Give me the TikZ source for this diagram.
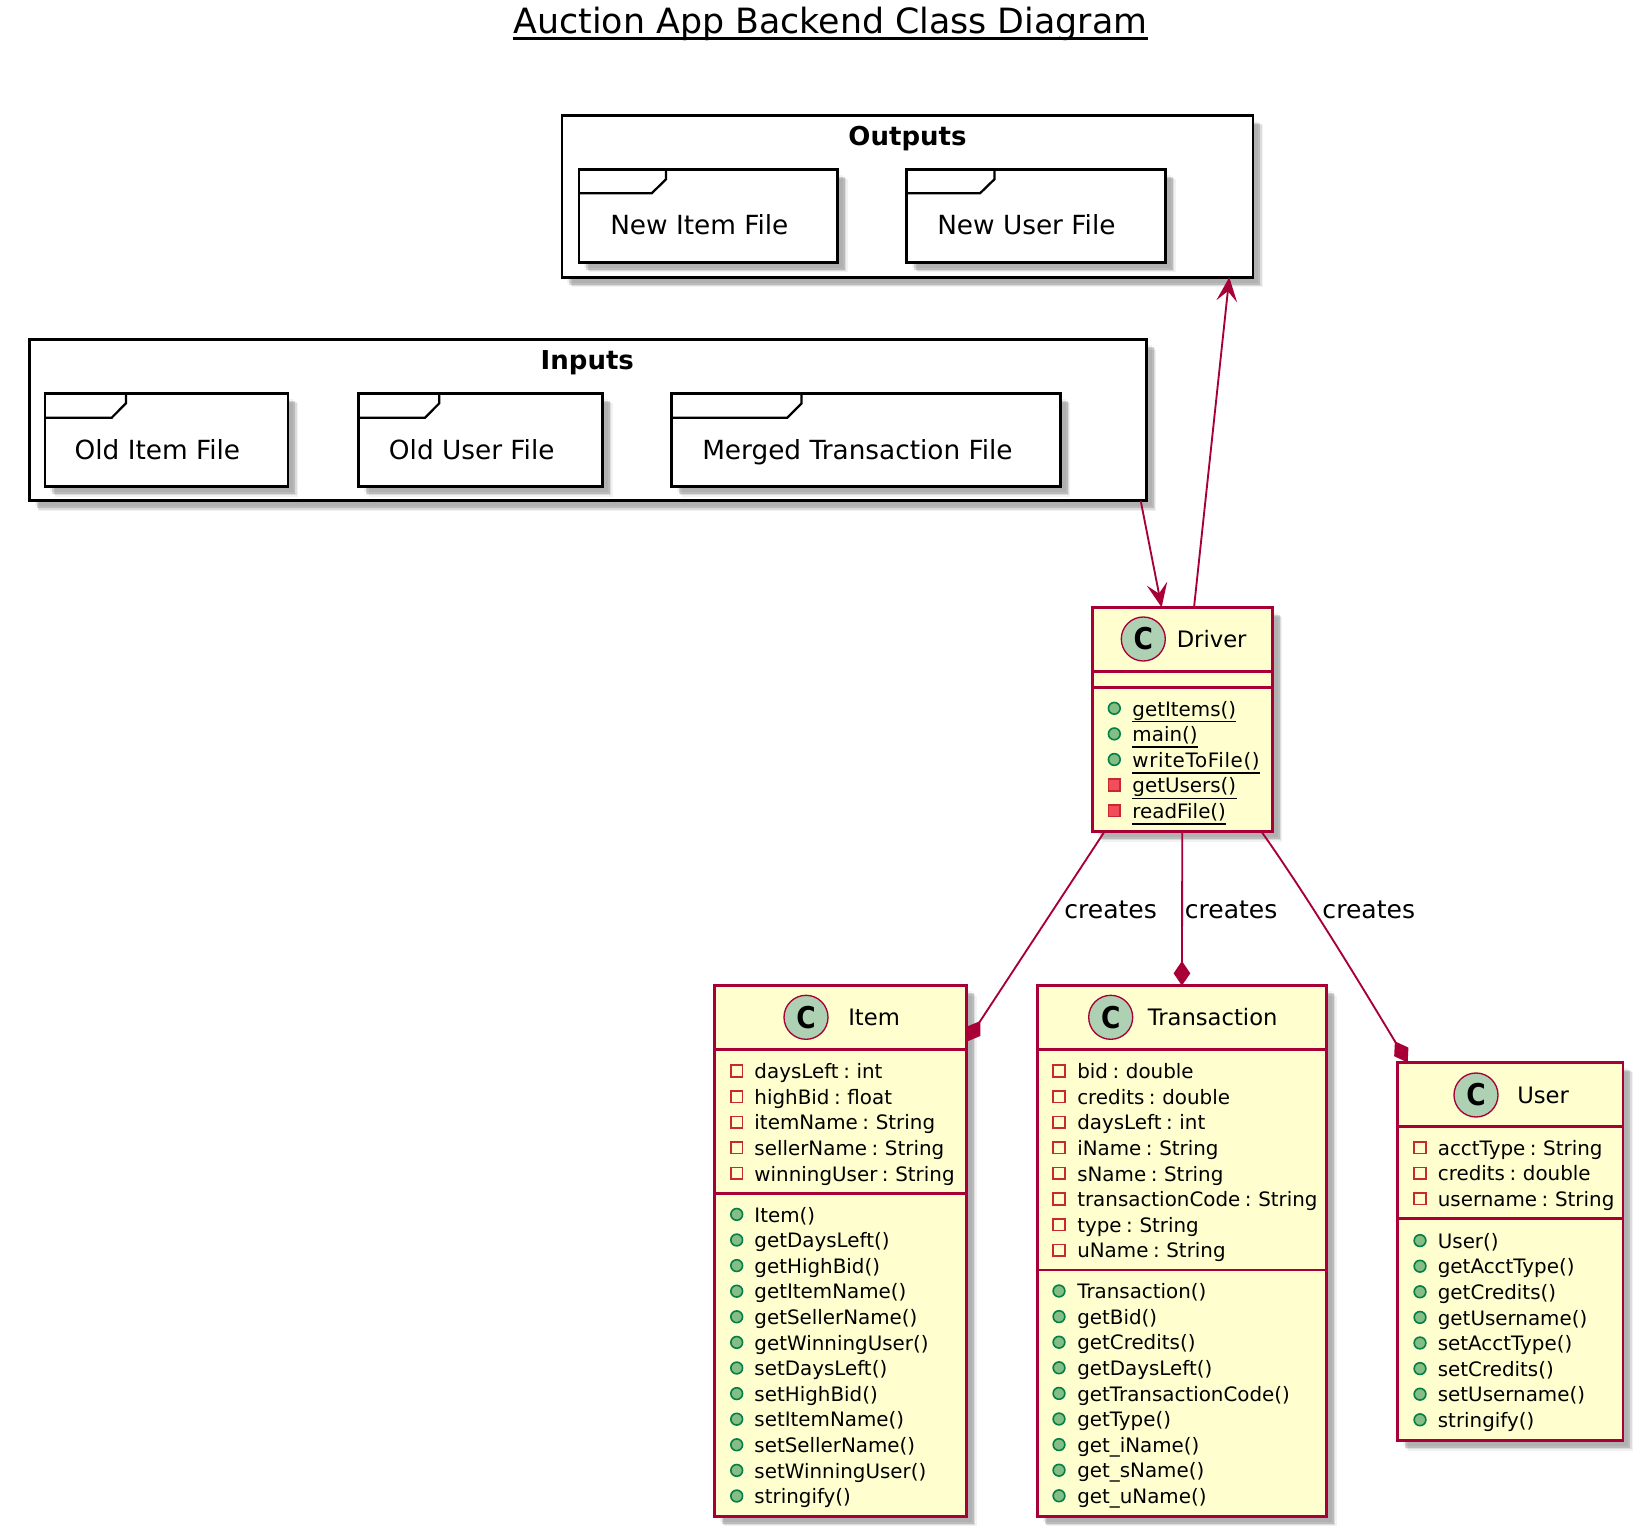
\documentclass[tikz,border=0pt]{standalone}
\usepackage{fontspec}
\setmainfont{DejaVu Sans}
\newfontfamily\memberfont{DejaVu Sans}[WordSpace=0.72]
\usetikzlibrary{arrows.meta,shadows}
\definecolor{umlred}{HTML}{A80036}
\definecolor{umlfill}{HTML}{FEFECE}
\definecolor{spotfill}{HTML}{ADD1B2}
\definecolor{pubfill}{HTML}{84BE84}
\definecolor{publine}{HTML}{038048}
\definecolor{privfill}{HTML}{F24D5C}
\definecolor{privline}{HTML}{C82930}
\newcommand{\spotletter}{\scalebox{.88}[1]{C}}
\tikzset{
  umlshadow/.style={
    general shadow={fill=black,opacity=.05,shadow xshift=4pt,shadow yshift=-4pt},
    general shadow={fill=black,opacity=.15,shadow xshift=5.5pt,shadow yshift=-5.5pt},
    general shadow={fill=black,opacity=.09,shadow xshift=6.5pt,shadow yshift=-6.5pt},
    general shadow={fill=black,opacity=.05,shadow xshift=7.5pt,shadow yshift=-7.5pt}},
  classbox/.style={umlshadow,draw=umlred,fill=umlfill,line width=2.1pt,inner sep=0pt,outer sep=0pt},
  framebox/.style={umlshadow,draw=black,fill=white,line width=2.1pt,inner sep=0pt,outer sep=0pt},
  tabline/.style={draw=black,line width=1.7pt,line join=miter},
  classline/.style={draw=umlred,line width=2.1pt},
  underrule/.style={draw=black,line width=1.1pt},
  titlerule/.style={draw=black,line width=2pt},
  titlelabel/.style={anchor=base,inner sep=0pt,font=\fontsize{26.1}{30}\selectfont},
  framelabel/.style={anchor=base,inner sep=0pt,font=\fontsize{19.5}{23}\selectfont\bfseries},
  filelabel/.style={anchor=base west,inner sep=0pt,font=\fontsize{19.75}{23}\selectfont},
  headlabel/.style={anchor=base west,inner sep=0pt,font=\fontsize{17}{20}\selectfont},
  memberlabel/.style={anchor=base west,inner sep=0pt,font=\memberfont\fontsize{14.9}{18}\selectfont},
  edgelabel/.style={anchor=base west,inner sep=0pt,font=\fontsize{18.8}{22}\selectfont},
  spot/.style={circle,draw=umlred,fill=spotfill,line width=1pt,minimum size=33pt,inner sep=0pt,
    font=\fontsize{22.5}{28}\selectfont\bfseries},
  pubdot/.style={circle,draw=publine,fill=pubfill,line width=1.2pt,minimum size=8.8pt,inner sep=0pt},
  privsquare/.style={rectangle,draw=privline,fill=privfill,line width=1.2pt,minimum size=8.8pt,inner sep=0pt},
  privfield/.style={rectangle,draw=privline,line width=1.2pt,minimum size=8.8pt,inner sep=0pt},
  openarrow/.style={draw=umlred,line width=1.4pt,-{Stealth[length=18pt,width=15.5pt,inset=7.5pt]}},
  comparrow/.style={draw=umlred,line width=1.4pt,-{Diamond[length=18.5pt,width=12.5pt]}}
}
\begin{document}
\begin{tikzpicture}[x=0.75pt,y=0.75pt,yscale=-1,xscale=1]
\useasboundingbox (0,0) rectangle (1643,1537);

% Title
\node[titlelabel] (title) at (830.4,33.3) {Auction App Backend Class Diagram};
\draw[titlerule] ([yshift=3.75pt]title.base west) -- ([yshift=3.75pt]title.base east);

% Outputs
\node[framebox,minimum width=518.3pt,minimum height=121.5pt] (outputs) at (907.5,196.3) {};
\node[framelabel] (outputslabel) at (907.5,146) {Outputs};
\node[framebox,minimum width=194pt,minimum height=69.8pt] (newitem) at (708.35,215.8) {};
\draw[tabline] (579,193.3) -- (651.7,193.3) -- (666,179.3) -- (666,169.3);
\node[filelabel] (newitemlabel) at (610,235) {New Item File};
\node[framebox,minimum width=194pt,minimum height=69.8pt] (newuser) at (1036.2,215.8) {};
\draw[tabline] (907.4,193.3) -- (980,193.3) -- (994.4,179.3) -- (994.4,169.3);
\node[filelabel] (newuserlabel) at (937,235) {New User File};

% Inputs
\node[framebox,minimum width=837.8pt,minimum height=121pt] (inputs) at (587.8,420.2) {};
\node[framelabel] (inputslabel) at (587.3,370) {Inputs};
\node[framebox,minimum width=182.3pt,minimum height=69.8pt] (olditem) at (166.5,440) {};
\draw[tabline] (45,417.7) -- (111.7,417.7) -- (126,403.3) -- (126,394);
\node[filelabel] (olditemlabel) at (74.4,459.7) {Old Item File};
\node[framebox,minimum width=183pt,minimum height=69.8pt] (olduser) at (480.5,440) {};
\draw[tabline] (358.4,417.7) -- (425,417.7) -- (439.3,403.3) -- (439.3,394);
\node[filelabel] (olduserlabel) at (388.7,459.7) {Old User File};
\node[framebox,minimum width=291.6pt,minimum height=69.8pt] (merged) at (866,440) {};
\draw[tabline] (671.6,417.7) -- (787.3,417.7) -- (801.6,403.3) -- (801.6,394);
\node[filelabel] (mergedlabel) at (702,459.7) {Merged Transaction File};

% Driver
\node[classbox,minimum width=135pt,minimum height=168.3pt] (driver) at (1182.3,719.5) {};
\node[spot] (driverspot) at (1143.3,639) {\spotletter};
\node[headlabel] (driverlabel) at (1176.5,647.5) {Driver};
\draw[classline] (1092.3,671.7) -- (1272.3,671.7);
\draw[classline] (1092.3,687.3) -- (1272.3,687.3);
\foreach \mname [count=\n from 0] in {getItems(),main(),{\addfontfeatures{LetterSpace=3.2}writeToFile()}} {
  \node[pubdot] (driverpub\n) at (1114.3,{708.3+25.6*\n}) {};
  \node[memberlabel] (driverpubname\n) at (1132.2,{716+25.6*\n}) {\mname};
  \draw[underrule] ([yshift=4.2pt]driverpubname\n.base west) -- ([yshift=4.2pt]driverpubname\n.base east);
}
\foreach \mname [count=\n from 3] in {getUsers(),readFile()} {
  \node[privsquare] (driverpriv\n) at (1114.3,{708.3+25.6*\n}) {};
  \node[memberlabel] (driverprivname\n) at (1132.2,{716+25.6*\n}) {\mname};
  \draw[underrule] ([yshift=4.2pt]driverprivname\n.base west) -- ([yshift=4.2pt]driverprivname\n.base east);
}

% Item
\node[classbox,minimum width=189.3pt,minimum height=398pt] (item) at (840.5,1251) {};
\node[spot] (itemspot) at (806,1017.3) {\spotletter};
\node[headlabel] (itemlabel) at (848,1025.7) {Item};
\draw[classline] (714.3,1049.3) -- (966.7,1049.3);
\draw[classline] (714.3,1193.3) -- (966.7,1193.3);
\foreach \mname [count=\n from 0] in {daysLeft : int,highBid : float,itemName : String,sellerName : String,winningUser : String} {
  \node[privfield] (itemfield\n) at (736.7,{1071+25.6*\n}) {};
  \node[memberlabel] (itemfieldname\n) at (754.2,{1078.7+25.6*\n}) {\mname};
}
\foreach \mname [count=\n from 0] in {Item(),getDaysLeft(),getHighBid(),getItemName(),getSellerName(),getWinningUser(),setDaysLeft(),setHighBid(),setItemName(),setSellerName(),setWinningUser(),stringify()} {
  \node[pubdot] (itemmeth\n) at (736.7,{1214.4+25.6*\n}) {};
  \node[memberlabel] (itemmethname\n) at (754.2,{1222.1+25.6*\n}) {\mname};
}

% Transaction
\node[classbox,minimum width=216.9pt,minimum height=398pt] (transaction) at (1181.9,1251) {};
\node[spot] (transactionspot) at (1110.7,1017.3) {\spotletter};
\node[headlabel] (transactionlabel) at (1147.5,1025.7) {Transaction};
\draw[classline] (1037.3,1049.3) -- (1326.5,1049.3);
\draw[classline] (1037.3,1270) -- (1326.5,1270);
\foreach \mname [count=\n from 0] in {bid : double,credits : double,daysLeft : int,iName : String,sName : String,transactionCode : String,type : String,uName : String} {
  \node[privfield] (transactionfield\n) at (1059,{1071+25.6*\n}) {};
  \node[memberlabel] (transactionfieldname\n) at (1077,{1078.7+25.6*\n}) {\mname};
}
\foreach \mname [count=\n from 0] in {Transaction(),getBid(),getCredits(),getDaysLeft(),getTransactionCode(),getType(),get\_iName(),get\_sName(),get\_uName()} {
  \node[pubdot] (transactionmeth\n) at (1059,{1291+25.6*\n}) {};
  \node[memberlabel] (transactionmethname\n) at (1077,{1298.7+25.6*\n}) {\mname};
}

% User
\node[classbox,minimum width=168.9pt,minimum height=283.7pt] (user) at (1510.4,1251.6) {};
\node[spot] (userspot) at (1476,1095) {\spotletter};
\node[headlabel] (userlabel) at (1517,1103.7) {User};
\draw[classline] (1397.8,1126.4) -- (1623,1126.4);
\draw[classline] (1397.8,1218.6) -- (1623,1218.6);
\foreach \mname [count=\n from 0] in {acctType : String,credits : double,username : String} {
  \node[privfield] (userfield\n) at (1420,{1147.6+25.6*\n}) {};
  \node[memberlabel] (userfieldname\n) at (1437.6,{1155.3+25.6*\n}) {\mname};
}
\foreach \mname [count=\n from 0] in {User(),getAcctType(),getCredits(),getUsername(),setAcctType(),setCredits(),setUsername(),stringify()} {
  \node[pubdot] (usermeth\n) at (1420,{1240.6+25.6*\n}) {};
  \node[memberlabel] (usermethname\n) at (1437.6,{1248.3+25.6*\n}) {\mname};
}

% Connectors
\draw[openarrow] ([xshift=-4.2pt]inputs.south east) -- ([xshift=-15.5pt]driver.north);
\draw[openarrow] ([xshift=8.8pt]driver.north) -- ([xshift=-17.8pt]outputs.south east);
\draw[comparrow] ([xshift=-58.4pt]driver.south) -- ([yshift=42pt]item.north east);
\draw[comparrow] (driver.south) -- (transaction.north);
\draw[comparrow] ([xshift=59.4pt]driver.south) .. controls (1310,900) and (1370,1000) .. ([xshift=7.4pt]user.north west);

% Text Node
\node[edgelabel] (createsitem) at (1064,918.3) {creates};
\node[edgelabel] (createstransaction) at (1184.5,918.3) {creates};
\node[edgelabel] (createsuser) at (1322.2,918.3) {creates};

\end{tikzpicture}
\end{document}
